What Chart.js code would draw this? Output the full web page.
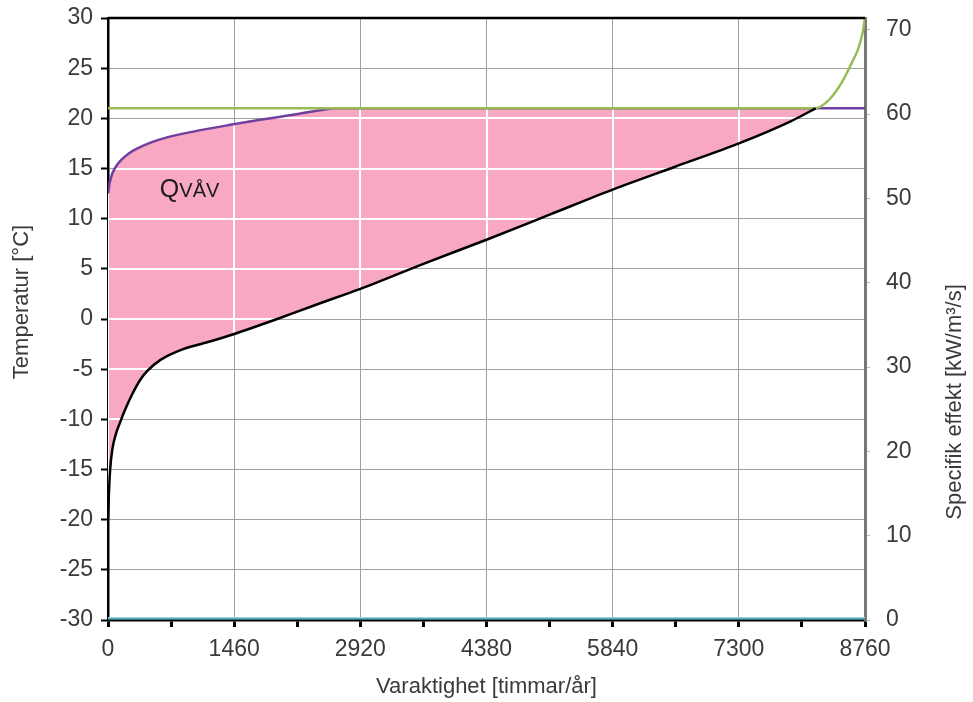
<!DOCTYPE html>
<html>
<head>
<meta charset="utf-8">
<script src="https://cdn.jsdelivr.net/npm/chart.js@4.4.0/dist/chart.umd.min.js"></script>
<style>
  html, body { margin: 0; padding: 0; background: #fff; }
</style>
</head>
<body>
<canvas id="chart" width="973" height="702"></canvas>
<script>
// varaktighet (timmar/år) och temperaturer (°C)
const outdoorHours = [0, 10, 25, 50, 90, 140, 200, 280, 370, 452, 603, 869, 1200, 1460, 1958, 2400, 2920, 3650, 4380, 5110, 5840, 6570, 7300, 7900, 8190];
const outdoorTemp  = [-20, -17.5, -15, -13, -11.5, -10.3, -9, -7.5, -6.1, -5.2, -4.1, -3, -2.2, -1.5, 0, 1.4, 3.0, 5.5, 7.9, 10.4, 12.9, 15.2, 17.5, 19.7, 21];

const vavHours = [0, 20, 50, 100, 160, 240, 340, 500, 684, 1000, 1450, 1760, 2100, 2456, 2650, 8760];
const vavTemp  = [12.5, 13.6, 14.5, 15.3, 15.9, 16.5, 17.0, 17.6, 18.1, 18.7, 19.4, 19.85, 20.3, 20.8, 21, 21];

const supplyHours = [0, 8190, 8300, 8400, 8500, 8600, 8680, 8730, 8760];
const supplyTemp  = [21, 21, 21.5, 22.4, 23.7, 25.4, 26.9, 28.4, 30];

const effectHours = [0, 8760];
const effectValues = [0, 0];

const xTickStep = 730;
const xLabelStep = 1460;

const pink = '#f8a8c3';
const gridGray = '#a0a0a0';
const textColor = '#3a3a3a';
const fontFamily = '"Liberation Sans", Arial, sans-serif';

function pairs(xs, ys) {
  return xs.map((x, i) => ({ x: x, y: ys[i] }));
}

// rosa yta med vita rutnätslinjer, som i originalet
function pinkPattern(context) {
  const chart = context.chart;
  const area = chart.chartArea;
  const xs = chart.scales.x;
  const ys = chart.scales.y;
  if (!area || !xs || !ys || !xs.ticks || !ys.ticks) return pink;
  const c = document.createElement('canvas');
  c.width = chart.width;
  c.height = chart.height;
  const g = c.getContext('2d');
  g.fillStyle = pink;
  g.fillRect(0, 0, c.width, c.height);
  g.strokeStyle = '#ffffff';
  g.lineWidth = 2;
  g.beginPath();
  xs.ticks.forEach(t => {
    if (t.value % xLabelStep !== 0) return;
    const px = Math.round(xs.getPixelForValue(t.value));
    g.moveTo(px, area.top);
    g.lineTo(px, area.bottom);
  });
  ys.ticks.forEach(t => {
    const py = Math.round(ys.getPixelForValue(t.value));
    g.moveTo(area.left, py);
    g.lineTo(area.right, py);
  });
  g.stroke();
  return g.createPattern(c, 'no-repeat');
}

function drawRotated(ctx, text, x, y, angle) {
  ctx.save();
  ctx.translate(x, y);
  ctx.rotate(angle);
  ctx.textAlign = 'center';
  ctx.textBaseline = 'middle';
  ctx.fillText(text, 0, 0);
  ctx.restore();
}

const extras = {
  id: 'extras',
  afterDatasetsDraw(chart) {
    const ctx = chart.ctx;
    const area = chart.chartArea;
    const xs = chart.scales.x;
    const ys = chart.scales.y;
    ctx.save();
    // övre ram
    ctx.strokeStyle = '#000';
    ctx.lineWidth = 2.5;
    ctx.beginPath();
    ctx.moveTo(area.left, area.top);
    ctx.lineTo(area.right, area.top);
    ctx.stroke();
    // etikett QVÅV
    const x0 = xs.getPixelForValue(600);
    const y0 = ys.getPixelForValue(12.2);
    ctx.fillStyle = '#1a1a1a';
    ctx.textBaseline = 'alphabetic';
    ctx.font = '25px ' + fontFamily;
    ctx.fillText('Q', x0, y0);
    const w = ctx.measureText('Q').width;
    ctx.font = '20px ' + fontFamily;
    ctx.fillText('VÅV', x0 + w, y0);
    ctx.restore();
  },
  afterDraw(chart) {
    const ctx = chart.ctx;
    ctx.save();
    ctx.fillStyle = textColor;
    ctx.font = '22px ' + fontFamily;
    drawRotated(ctx, 'Temperatur [°C]', 22, 302, -Math.PI / 2);
    drawRotated(ctx, 'Specifik effekt [kW/m³/s]', 955, 402, -Math.PI / 2);
    ctx.restore();
  }
};

const tickFont = { family: fontFamily, size: 23 };
const titleFont = { family: fontFamily, size: 22 };

function fitY(s) {
  s.width = 108;
  s.paddingTop = 0;
  s.paddingBottom = 0;
}

new Chart(document.getElementById('chart'), {
  type: 'line',
  data: {
    datasets: [
      {
        label: 'effekt',
        data: pairs(effectHours, effectValues),
        yAxisID: 'y2',
        borderColor: '#2a7880',
        borderWidth: 3,
        pointRadius: 0,
        fill: false
      },
      {
        label: 'effekt2',
        data: pairs(effectHours, effectValues),
        yAxisID: 'y2',
        borderColor: '#8fd8e0',
        borderWidth: 6,
        pointRadius: 0,
        fill: false
      },
      {
        label: 'Utetemperatur',
        data: pairs(outdoorHours, outdoorTemp),
        yAxisID: 'y',
        borderColor: '#000000',
        borderWidth: 2.5,
        pointRadius: 0,
        cubicInterpolationMode: 'monotone',
        fill: false
      },
      {
        label: 'Tilluft',
        data: pairs(supplyHours, supplyTemp),
        yAxisID: 'y',
        borderColor: '#9bbb59',
        borderWidth: 2.5,
        pointRadius: 0,
        cubicInterpolationMode: 'monotone',
        fill: false
      },
      {
        label: 'QVÅV',
        data: pairs(vavHours, vavTemp),
        yAxisID: 'y',
        borderColor: '#7040a0',
        borderWidth: 2.5,
        pointRadius: 0,
        cubicInterpolationMode: 'monotone',
        backgroundColor: pinkPattern,
        fill: 2
      }
    ]
  },
  options: {
    responsive: false,
    animation: false,
    layout: { padding: { top: 18, left: 0, right: 0, bottom: 0 } },
    plugins: {
      legend: { display: false },
      tooltip: { enabled: false }
    },
    scales: {
      x: {
        type: 'linear',
        min: 0,
        max: 8760,
        afterFit: s => { s.height = 82; s.paddingLeft = 0; s.paddingRight = 0; },
        border: { color: '#000', width: 2.5 },
        grid: {
          color: c => (c.tick && c.tick.value % xLabelStep === 0) ? gridGray : 'rgba(0,0,0,0)',
          tickColor: '#000',
          tickLength: 7,
          tickWidth: 3
        },
        ticks: {
          stepSize: xTickStep,
          autoSkip: false,
          maxRotation: 0,
          color: textColor,
          font: tickFont,
          padding: 9,
          callback: v => (v % xLabelStep === 0 ? String(v) : '')
        },
        title: {
          display: true,
          text: 'Varaktighet [timmar/år]',
          color: textColor,
          font: titleFont,
          padding: 2
        }
      },
      y: {
        position: 'left',
        min: -30,
        max: 30,
        afterFit: fitY,
        border: { color: '#000', width: 2.5 },
        grid: {
          color: gridGray,
          tickColor: '#000',
          tickLength: 7,
          tickWidth: 2
        },
        ticks: {
          stepSize: 5,
          color: textColor,
          font: tickFont,
          padding: 8
        }
      },
      y2: {
        position: 'right',
        min: 0,
        max: 71.4,
        afterFit: fitY,
        border: { color: '#777', width: 3 },
        grid: {
          drawOnChartArea: false,
          tickColor: '#bbb',
          tickLength: 5
        },
        ticks: {
          stepSize: 10,
          includeBounds: false,
          color: textColor,
          font: tickFont,
          padding: 16
        }
      }
    }
  },
  plugins: [extras]
});
</script>
</body>
</html>
